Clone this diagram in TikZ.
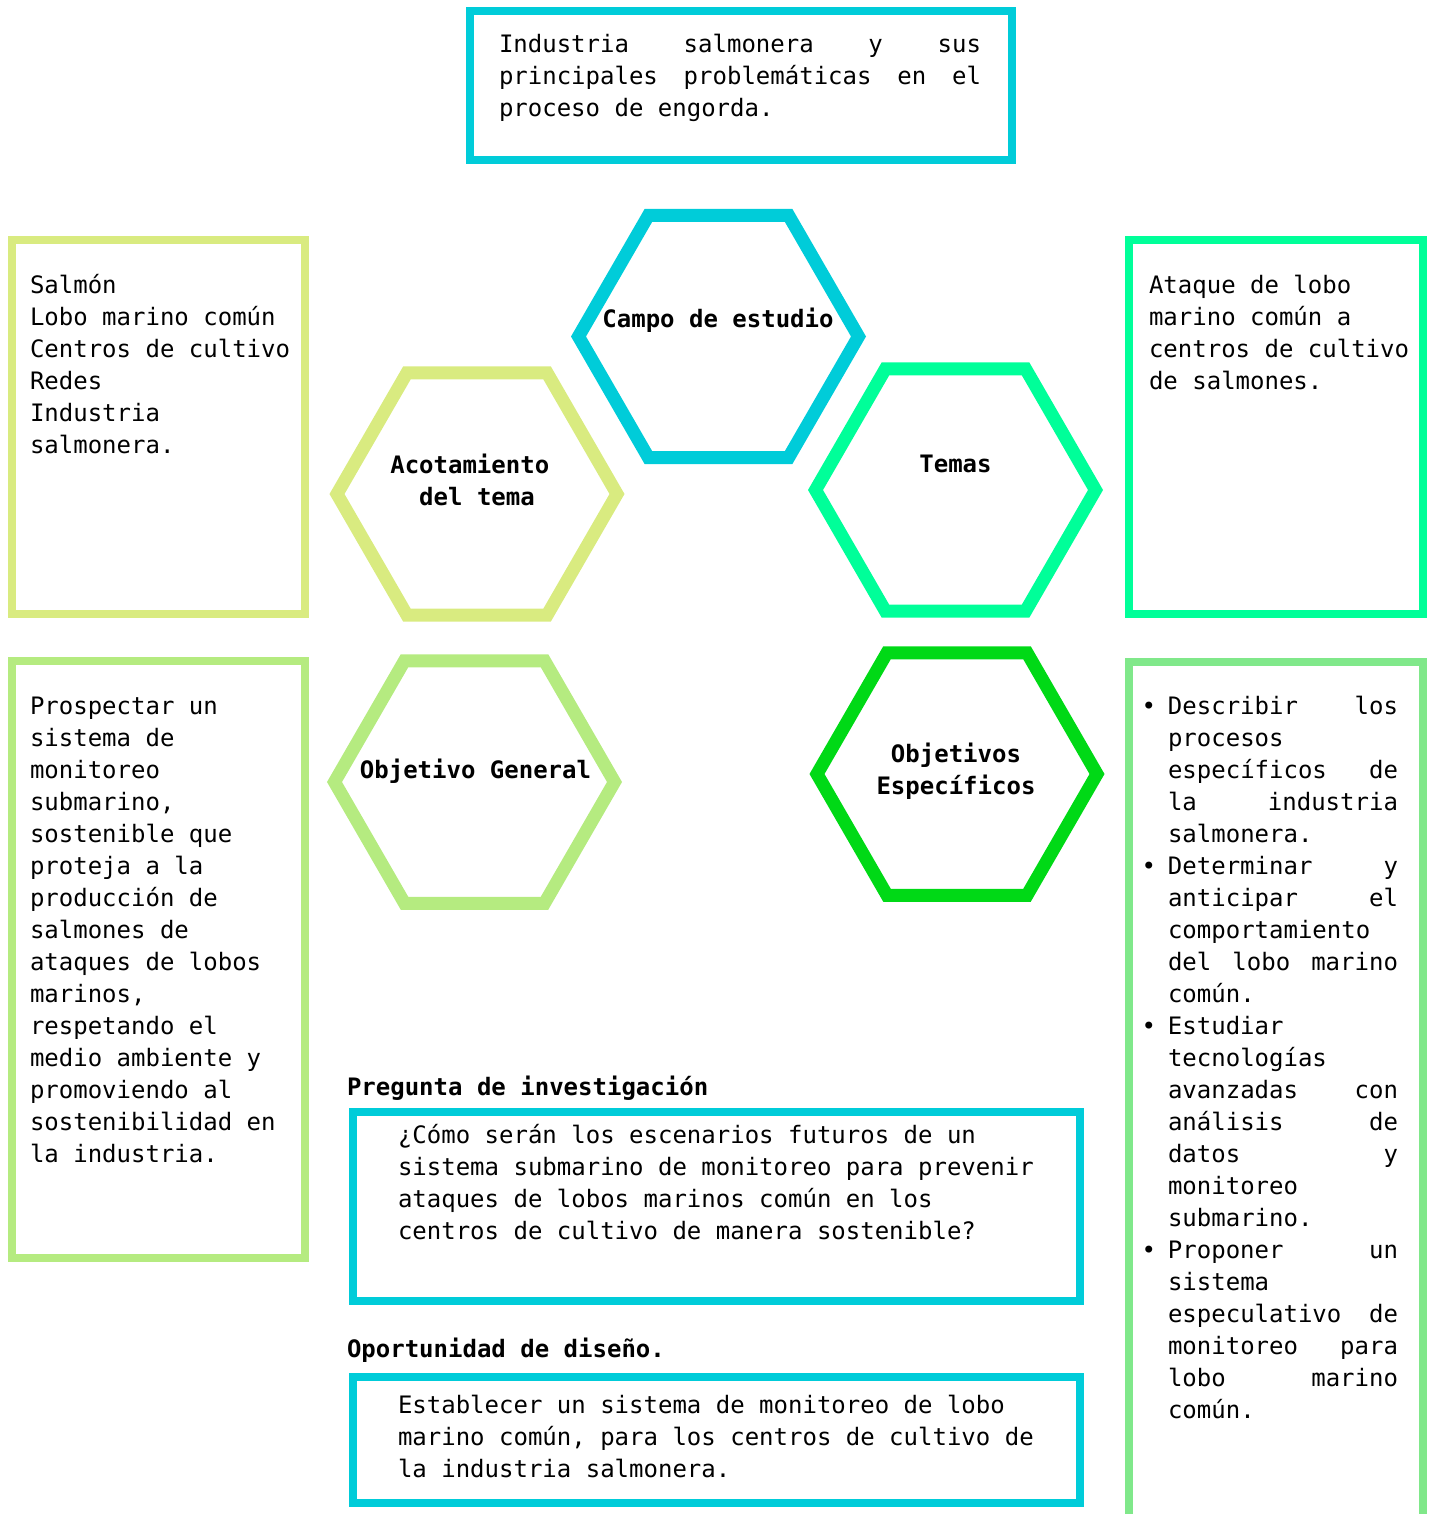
\documentclass[tikz,border=0pt]{standalone}
\usepackage{fontspec}
\usepackage{xcolor}
\usetikzlibrary{shapes.geometric}

\newfontfamily\plexmono{DejaVu Sans Mono}
\newcommand\txtfont{\plexmono\fontsize{12}{16}\selectfont\fontdimen3\font=12pt\relax\tolerance=10000\relax}
\newcommand\hexfont{\plexmono\bfseries\fontsize{12}{16}\selectfont}

\definecolor{cyanbox}{RGB}{0,204,217}
\definecolor{limebox}{RGB}{217,235,128}
\definecolor{mintbox}{RGB}{0,255,153}
\definecolor{pistbox}{RGB}{181,235,128}
\definecolor{greenbox}{RGB}{0,217,22}
\definecolor{leafbox}{RGB}{128,232,138}

\begin{document}
\begin{tikzpicture}[x=0.5pt,y=-0.5pt,
	hexa/.style={regular polygon,regular polygon sides=6,minimum size=140pt,line width=6.5pt,draw=#1,inner sep=0pt},
	caja/.style={rectangle,draw=#1,line width=4pt,anchor=north west,inner sep=0pt,outer sep=0pt},
	txt/.style={font=\txtfont,anchor=north west,inner sep=0pt,outer sep=0pt,
		execute at begin node={\spaceskip=0pt\xspaceskip=0pt\noindent\strut}},
	titulo/.style={font=\hexfont,inner sep=0pt,outer sep=0pt},
	titulo2/.style={titulo,anchor=north,text width=100pt,align=center,
		execute at begin node={\spaceskip=\fontdimen2\font\xspaceskip=\spaceskip\strut}}]
	\useasboundingbox (0,0) rectangle (1433,1514);
	
	% hexagonos
	\node [hexa=cyanbox] (campo) at (718.5,336.5) {};
	\node [hexa=limebox] (acot) at (477,494) {};
	\node [hexa=mintbox] (temas) at (955.5,490) {};
	\node [hexa=pistbox] (objgen) at (474.5,782) {};
	\node [hexa=greenbox] (objesp) at (957,774) {};
	
	\node [titulo,anchor=base] (campotxt) at (718,327) {Campo de estudio};
	\node [titulo2] (acottxt) at (477,450.6) {Acotamiento\hphantom{x}\\del tema};
	\node [titulo,anchor=base] (temastxt) at (955.5,472) {Temas};
	\node [titulo,anchor=base] (objgentxt) at (475.5,778) {Objetivo General};
	\node [titulo2] (objesptxt) at (956,739.6) {Objetivos\\Específicos};
	
	% cajas
	\node [caja=cyanbox,minimum width=271pt,minimum height=74.5pt] (industria) at (470,11) {};
	\node [caja=limebox,minimum width=146.75pt,minimum height=186.5pt] (acotbox) at (11.5,240.5) {};
	\node [caja=mintbox,minimum width=147pt,minimum height=187pt] (temasbox) at (1129,240) {};
	\node [caja=pistbox,minimum width=146.75pt,minimum height=298.5pt] (objgenbox) at (11.5,661) {};
	\node [caja=leafbox,minimum width=147pt,minimum height=450pt] (objespbox) at (1129,662) {};
	\node [caja=cyanbox,minimum width=363.5pt,minimum height=94.5pt] (pregunta) at (353,1112) {};
	\node [caja=cyanbox,minimum width=363.5pt,minimum height=63pt] (oportunidad) at (353,1377) {};
	
	% textos
	\node [txt,text width=241pt,align=justify] (industriatxt) at (499,30.6)
	{Industria salmonera y sus\linebreak principales problemáticas en el\linebreak proceso de engorda.};
	\node [txt,text width=140pt,align=left] (acotboxtxt) at (30,270.6)
	{Salmón\\Lobo marino común\\Centros de cultivo\\Redes\\Industria\\salmonera.};
	\node [txt,text width=140pt,align=left] (temasboxtxt) at (1149,270.6)
	{Ataque de lobo\\marino común a\\centros de cultivo\\de salmones.};
	\node [txt,text width=140pt,align=left] (objgenboxtxt) at (30,691.6)
	{Prospectar un\\sistema de\\monitoreo\\submarino,\\sostenible que\\proteja a la\\producción de\\salmones de\\ataques de lobos\\marinos,\\respetando el\\medio ambiente y\\promoviendo al\\sostenibilidad en\\la industria.};
	\node [txt,text width=115pt,align=justify] (objespboxtxt) at (1168,691.6)
	{\llap{•\hspace{6pt}}Describir los\linebreak procesos\linebreak específicos de\linebreak la industria\linebreak salmonera.\par
	\noindent\llap{•\hspace{6pt}}Determinar y\linebreak anticipar el\linebreak comportamiento\linebreak del lobo marino\linebreak común.\par
	\noindent\llap{•\hspace{6pt}}Estudiar\linebreak tecnologías\linebreak avanzadas con\linebreak análisis de\linebreak datos y\linebreak monitoreo\linebreak submarino.\par
	\noindent\llap{•\hspace{6pt}}Proponer un\linebreak sistema\linebreak especulativo de\linebreak monitoreo para\linebreak lobo marino\linebreak común.};
	
	\node [titulo,anchor=base west] (preguntalbl) at (347,1095) {Pregunta de investigación};
	\node [txt,text width=330pt,align=left] (preguntatxt) at (398,1120.6)
	{¿Cómo serán los escenarios futuros de un\\sistema submarino de monitoreo para prevenir\\ataques de lobos marinos común en los\\centros de cultivo de manera sostenible?};
	\node [titulo,anchor=base west] (oportunidadlbl) at (347,1357) {Oportunidad de diseño.};
	\node [txt,text width=330pt,align=left] (oportunidadtxt) at (398,1390.6)
	{Establecer un sistema de monitoreo de lobo\\marino común, para los centros de cultivo de\\la industria salmonera.};
\end{tikzpicture}
\end{document}
